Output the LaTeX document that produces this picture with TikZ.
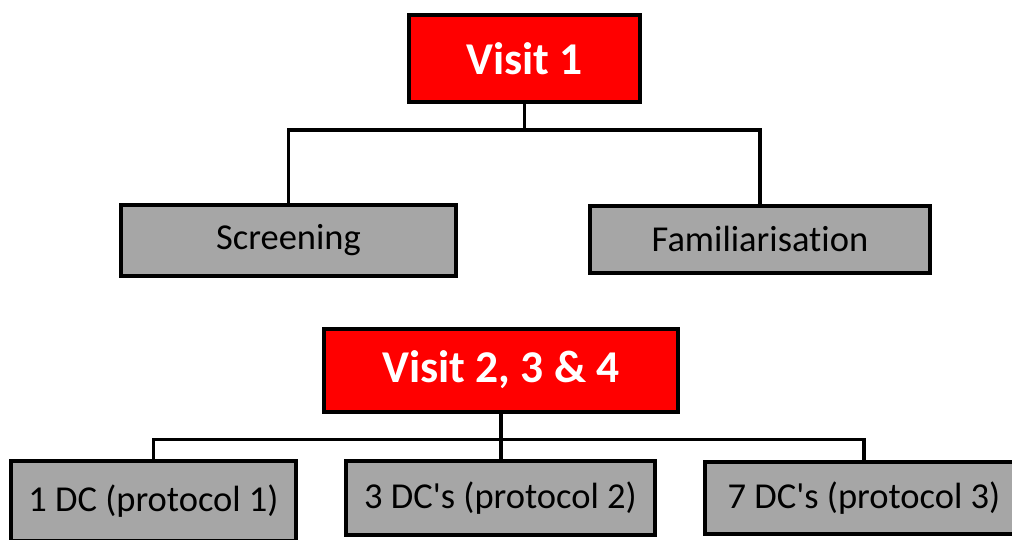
\documentclass[tikz,border=0pt]{standalone}
\usepackage{fontspec}
\setmainfont[Ligatures=NoCommon]{Carlito}
\usepackage{tikz}
\definecolor{visitred}{RGB}{255,0,0}
\definecolor{stagegray}{RGB}{166,166,166}

\begin{document}
\begin{tikzpicture}[x=1pt, y=-1pt,
  visitbox/.style={rectangle, draw, line width=4pt, fill=visitred, text=white, inner sep=0pt, font=\fontsize{45.5}{54}\selectfont\bfseries},
  stagebox/.style={rectangle, draw, line width=4pt, fill=stagegray, text=black, inner sep=0pt, font=\fontsize{36.5}{44}\selectfont},
  conn/.style={line width=3.8pt}]
\useasboundingbox (0,0) rectangle (1012,539);
\clip (0,0) rectangle (1012,539);
\node[visitbox, minimum width=231, minimum height=87] (1) at (524.5, 58.5) {Visit 1};
\node[stagebox, minimum width=335, minimum height=71] (2) at (288.5, 240.5) {Screening};
\node[stagebox, minimum width=340, minimum height=67] (3) at (760, 239) {Familiarisation};
\node[visitbox, minimum width=354, minimum height=83] (4) at (501, 370) {Visit 2, 3 \& 4};
\node[stagebox, minimum width=285, minimum height=80] (5) at (153.5, 501) {1 DC (protocol 1)};
\node[stagebox, minimum width=309, minimum height=74] (6) at (500.5, 498) {3 DC\textquotesingle s (protocol 2)};
\node[stagebox, minimum width=318, minimum height=72] (7) at (864, 498) {7 DC\textquotesingle s (protocol 3)};
\draw[conn] (1.south) -- ++(0,26) coordinate (a);
\draw[conn] (2.north) |- (a) -| (3.north);
\draw[conn] (4.south) -- ++(0,26) coordinate (b);
\draw[conn] (5.north) |- (b) -| (7.north);
\draw[conn] (b) -- (b |- 6.north);
\end{tikzpicture}
\end{document}
